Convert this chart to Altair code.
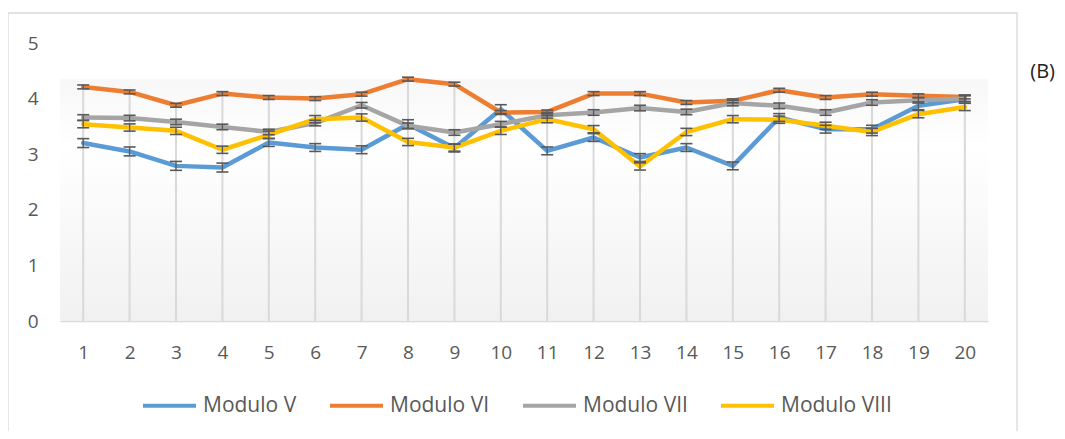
import altair as alt
import pandas as pd

categories = list(range(1, 21))
series_names = ["Modulo V", "Modulo VI", "Modulo VII", "Modulo VIII"]
series_colors = ["#5b9bd5", "#ed7d31", "#a5a5a5", "#ffc000"]

modulo_v = [3.20, 3.05, 2.79, 2.76, 3.21, 3.12, 3.08, 3.54, 3.11, 3.81,
            3.06, 3.30, 2.94, 3.12, 2.79, 3.66, 3.45, 3.45, 3.87, 3.99]
modulo_vi = [4.21, 4.12, 3.88, 4.09, 4.02, 4.00, 4.08, 4.35, 4.26, 3.75,
             3.76, 4.09, 4.09, 3.93, 3.96, 4.15, 4.02, 4.08, 4.05, 4.03]
modulo_vii = [3.66, 3.65, 3.58, 3.49, 3.40, 3.56, 3.88, 3.51, 3.39, 3.54,
              3.70, 3.75, 3.83, 3.76, 3.92, 3.87, 3.75, 3.93, 3.97, 4.00]
modulo_viii = [3.54, 3.48, 3.42, 3.08, 3.35, 3.63, 3.66, 3.22, 3.12, 3.42,
               3.63, 3.45, 2.78, 3.40, 3.63, 3.62, 3.51, 3.40, 3.72, 3.85]

err_v = [0.08, 0.08, 0.08, 0.08, 0.07, 0.07, 0.07, 0.08, 0.07, 0.08,
         0.07, 0.07, 0.07, 0.07, 0.07, 0.07, 0.07, 0.07, 0.07, 0.07]
err_vi = [0.035, 0.035, 0.035, 0.035, 0.035, 0.035, 0.035, 0.035, 0.035, 0.035,
          0.035, 0.035, 0.035, 0.035, 0.035, 0.035, 0.035, 0.035, 0.035, 0.035]
err_vii = [0.05, 0.05, 0.05, 0.05, 0.05, 0.05, 0.05, 0.05, 0.05, 0.05,
           0.05, 0.05, 0.05, 0.05, 0.05, 0.05, 0.05, 0.05, 0.05, 0.05]
err_viii = [0.065, 0.065, 0.065, 0.065, 0.065, 0.065, 0.065, 0.065, 0.065, 0.065,
            0.065, 0.065, 0.065, 0.065, 0.065, 0.065, 0.065, 0.065, 0.065, 0.065]

y_ticks = [0, 1, 2, 3, 4, 5]
panel_label = "(B)"

rows = []
for name, vals, errs in zip(series_names,
                            [modulo_v, modulo_vi, modulo_vii, modulo_viii],
                            [err_v, err_vi, err_vii, err_viii]):
    for c, v, e in zip(categories, vals, errs):
        rows.append({"cat": c, "series": name, "value": v,
                     "lo": round(v - e, 4), "hi": round(v + e, 4)})
df = pd.DataFrame(rows)
single = pd.DataFrame({"label": [panel_label]})

W, H = 928, 278
FONT = "Open Sans"
TXT = "#595959"

yscale = alt.Scale(domain=[0, 5], nice=False)
x_enc = alt.X("cat:O", scale=alt.Scale(type="point", padding=0.5),
              axis=alt.Axis(title=None, labelAngle=0, labelFontSize=19, labelColor=TXT,
                            labelFont=FONT, labelPadding=22, ticks=False, grid=False,
                            domain=True, domainColor="#d9d9d9", domainWidth=1.5))
y_axis = alt.Axis(title=None, values=y_ticks, labelFontSize=19, labelColor=TXT,
                  labelFont=FONT, labelPadding=22, ticks=False, grid=False, domain=False)

base = alt.Chart(df)

grad = alt.Gradient(gradient="linear", x1=0, x2=0, y1=0, y2=1,
                    stops=[alt.GradientStop(color="#f7f7f7", offset=0),
                           alt.GradientStop(color="#ffffff", offset=0.28),
                           alt.GradientStop(color="#f1f1f1", offset=1)])

bg = base.transform_aggregate(maxv="max(value)").mark_rect(color=grad).encode(
    x=alt.value(0), x2=alt.value(W),
    y=alt.Y("maxv:Q", scale=yscale, axis=y_axis), y2=alt.datum(0))

drops = base.transform_aggregate(maxv="max(value)", groupby=["cat"]).mark_rule(
    color="#d9d9d9", strokeWidth=2).encode(
    x=x_enc, y=alt.Y("maxv:Q", scale=yscale, axis=y_axis), y2=alt.datum(0))

lines = base.mark_line(strokeWidth=4.5, strokeJoin="round", strokeCap="round").encode(
    x=x_enc,
    y=alt.Y("value:Q", scale=yscale, axis=y_axis),
    color=alt.Color("series:N",
                    scale=alt.Scale(domain=series_names, range=series_colors),
                    legend=alt.Legend(title=None, orient="none", legendX=81, legendY=334,
                                      direction="horizontal", symbolType="stroke",
                                      symbolSize=2809, symbolStrokeWidth=4,
                                      labelFontSize=21, labelColor=TXT, labelFont=FONT,
                                      columnPadding=25, labelOffset=5)))

ebars = base.mark_rule(color="#595959", strokeWidth=1.3).encode(
    x=x_enc, y=alt.Y("lo:Q", scale=yscale, axis=y_axis), y2="hi:Q")
cap_lo = base.mark_point(shape="stroke", size=144, strokeWidth=1.6, color="#595959",
                         opacity=1).encode(x=x_enc, y=alt.Y("lo:Q", scale=yscale, axis=y_axis))
cap_hi = base.mark_point(shape="stroke", size=144, strokeWidth=1.6, color="#595959",
                         opacity=1).encode(x=x_enc, y=alt.Y("hi:Q", scale=yscale, axis=y_axis))

border = alt.Chart(single).mark_rect(stroke="#d9d9d9", strokeWidth=1.3, fillOpacity=0).encode(
    x=alt.value(-52), x2=alt.value(957), y=alt.value(-30), y2=alt.value(430))
ptext = alt.Chart(single).mark_text(fontSize=20, font=FONT, align="right", baseline="middle",
                                    color="#222222").encode(
    x=alt.value(995), y=alt.value(29), text="label:N")

chart = alt.layer(bg, drops, border, lines, ebars, cap_lo, cap_hi, ptext).properties(
    width=W, height=H,
    autosize=alt.AutoSizeParams(type="none"),
    padding={"left": 52, "top": 35, "right": 69, "bottom": 110},
    background="white",
).configure_view(strokeWidth=0)

chart.save("out.html", embed_options={"renderer": "svg", "actions": False})
